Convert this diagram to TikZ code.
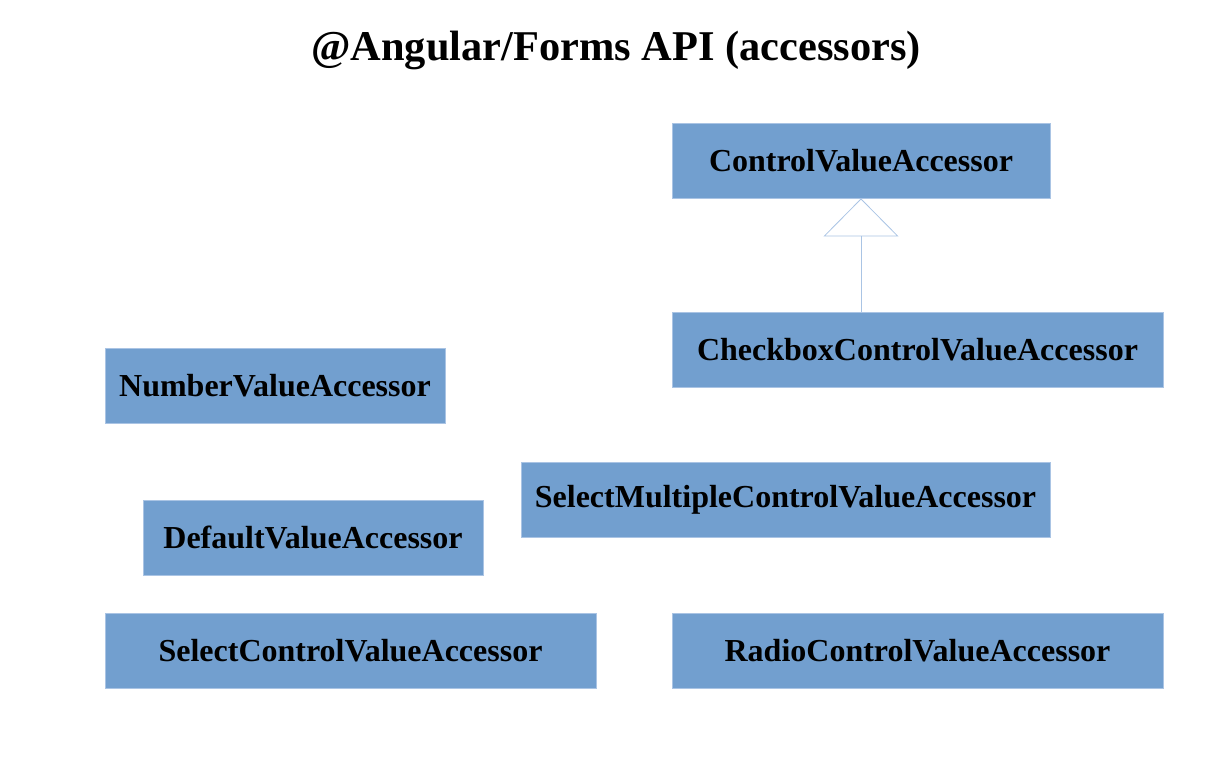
\documentclass[tikz,border=0pt]{standalone}
\usepackage{fontspec}
\setmainfont{Liberation Serif}
\usetikzlibrary{arrows.meta, positioning}
\definecolor{boxblue}{RGB}{114,159,207}
\definecolor{edgeblue}{RGB}{170,196,228}

\begin{document}
\begin{tikzpicture}[
    x=0.5pt,
    y=-0.5pt,
    accessor/.style={
        rectangle,
        fill=boxblue,
        draw=edgeblue,
        line width=0.4pt,
        minimum height=37.5pt,
        inner sep=0pt,
        text=black,
        font=\bfseries\fontsize{16}{19}\selectfont
    },
    title/.style={
        font=\bfseries\fontsize{21.2}{25}\selectfont,
        text=black
    },
    inherits/.style={
        draw=edgeblue,
        line width=0.4pt,
        -{Triangle[open, width=37.5pt, length=19pt]}
    }
]
\useasboundingbox (0,0) rectangle (1222,756);

% Title
\node[title] (head) at (616,50) {@Angular/Forms API (accessors)};

% Accessors
\node[accessor, minimum width=189pt] (cva) at (861,160.5) {ControlValueAccessor};
\node[accessor, minimum width=245.5pt] (chk) at (917.5,349.5) {CheckboxControlValueAccessor};
\node[accessor, minimum width=170pt] (num) at (275,386) {NumberValueAccessor};
\node[accessor, minimum width=264.5pt] (multi) at (785.5,499.5) {SelectMultipleControlValueAccessor};
\node[accessor, minimum width=170pt] (dflt) at (313,537.5) {DefaultValueAccessor};
\node[accessor, minimum width=245.5pt] (sel) at (350.5,650.5) {SelectControlValueAccessor};
\node[accessor, minimum width=245.5pt] (radio) at (917.5,650.5) {RadioControlValueAccessor};

% Inheritance
\draw[inherits] (chk.north -| cva.south) -- (cva.south);

\end{tikzpicture}
\end{document}
